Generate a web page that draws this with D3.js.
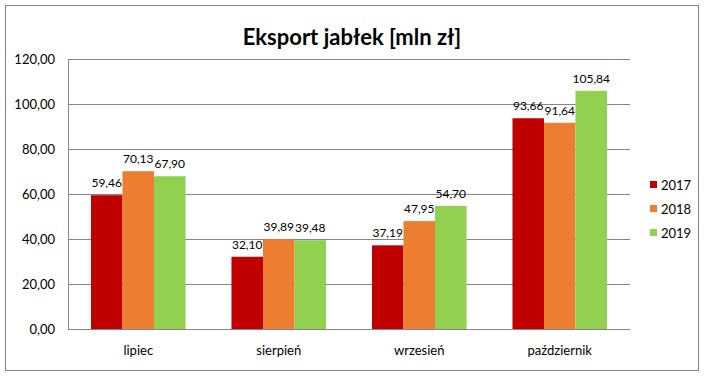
<!DOCTYPE html>
<html><head><meta charset="utf-8">
<script src="https://cdn.jsdelivr.net/npm/d3@7"></script>
<style>body{margin:0;background:#fff;} text{font-family:Lato,"Open Sans",sans-serif;}</style>
</head><body>
<svg id="c" width="704" height="376"></svg>
<script>
const categories = ["lipiec", "sierpień", "wrzesień", "październik"];
const seriesNames = ["2017", "2018", "2019"];
const values2017 = [59.46, 32.10, 37.19, 93.66];
const values2018 = [70.13, 39.89, 47.95, 91.64];
const values2019 = [67.90, 39.48, 54.70, 105.84];
const yTicks = [0, 20, 40, 60, 80, 100, 120];
const colors = ["#C00000", "#ED7D31", "#92D050"];
const title = "Eksport jabłek [mln zł]";

const series = [values2017, values2018, values2019];
const svg = d3.select("#c");
const fmt = v => v.toFixed(2).replace(".", ",");

svg.append("rect").attr("x", 5.5).attr("y", 5.5).attr("width", 693).attr("height", 365)
  .attr("fill", "#fff").attr("stroke", "#868686").attr("stroke-width", 1);

svg.append("text").attr("x", 352).attr("y", 45).attr("text-anchor", "middle")
  .attr("font-size", 22).attr("font-weight", "bold").attr("fill", "#000").text(title);

const pLeft = 68, pRight = 630, pTop = 59, pBottom = 329;
const x = d3.scaleBand().domain(categories).range([pLeft, pRight]).paddingInner(0.327).paddingOuter(0.1635);
const xi = d3.scaleBand().domain(seriesNames).range([0, x.bandwidth()]);
const y = d3.scaleLinear().domain([0, 120]).range([pBottom, pTop]);

const yAxis = svg.append("g").attr("transform", `translate(${pLeft},0)`)
  .call(d3.axisLeft(y).tickValues(yTicks).tickFormat(fmt).tickSize(-(pRight - pLeft)).tickPadding(13));
yAxis.select(".domain").attr("stroke", "#868686");
yAxis.selectAll(".tick line").attr("stroke", "#868686").attr("shape-rendering", "crispEdges");
yAxis.selectAll(".tick text").attr("font-size", 13).attr("fill", "#000").attr("font-family", "Lato,'Open Sans',sans-serif");

const groups = svg.append("g").selectAll("g").data(categories).join("g")
  .attr("transform", d => `translate(${x(d)},0)`);

groups.each(function(cat, ci) {
  const g = d3.select(this);
  seriesNames.forEach((s, si) => {
    const v = series[si][ci];
    g.append("rect").attr("x", xi(s)).attr("y", y(v)).attr("width", xi.bandwidth())
      .attr("height", y(0) - y(v)).attr("fill", colors[si]);
    g.append("text").attr("x", xi(s) + xi.bandwidth() / 2).attr("y", y(v) - 8)
      .attr("text-anchor", "middle").attr("font-size", 12).attr("fill", "#000").text(fmt(v));
  });
});

svg.append("line").attr("x1", pLeft).attr("x2", pRight).attr("y1", pBottom + 0.5).attr("y2", pBottom + 0.5)
  .attr("stroke", "#868686");

const xAxis = svg.append("g").attr("transform", `translate(0,${pBottom})`)
  .call(d3.axisBottom(x).tickSize(0).tickPadding(17));
xAxis.select(".domain").remove();
xAxis.selectAll(".tick text").attr("font-size", 13).attr("fill", "#000").attr("font-family", "Lato,'Open Sans',sans-serif");

const legend = svg.append("g");
seriesNames.forEach((s, i) => {
  const ly = 185 + i * 24;
  legend.append("rect").attr("x", 650).attr("y", ly - 4).attr("width", 7).attr("height", 7).attr("fill", colors[i]);
  legend.append("text").attr("x", 661).attr("y", ly + 4.5).attr("font-size", 13).attr("fill", "#000").text(s);
});
</script>
</body></html>
